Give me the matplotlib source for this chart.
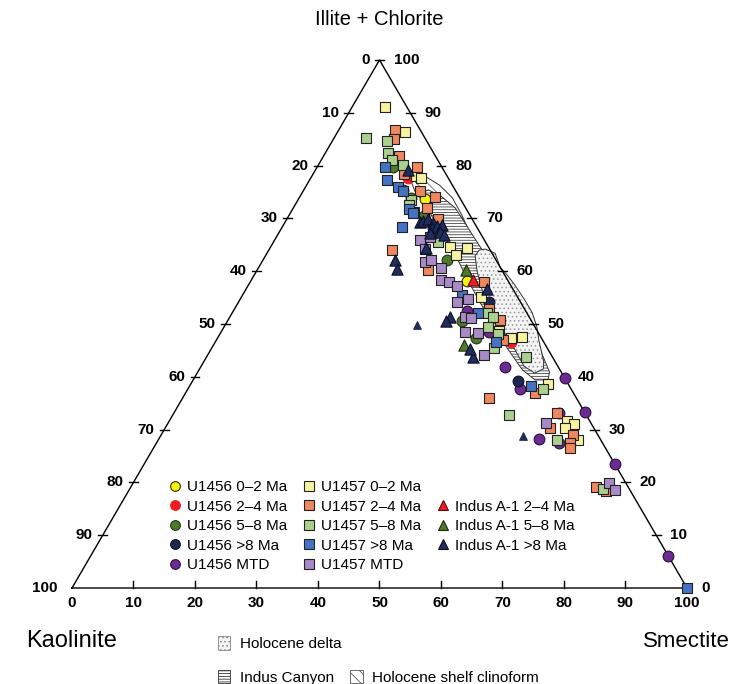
import numpy as np
import matplotlib
matplotlib.use("Agg")
import matplotlib.pyplot as plt
from matplotlib.patches import Polygon, Patch
from matplotlib.lines import Line2D

plt.rcParams['font.family'] = ['Liberation Sans', 'DejaVu Sans']
plt.rcParams['hatch.linewidth'] = 0.6

# Ternary data: (smectite %, illite+chlorite %); kaolinite = 100 - both
u1456_0_2 = [(20.6, 73.7), (35.1, 58.1)]
u1456_2_4 = [(15.8, 77.7), (48.1, 46.6)]
u1456_5_8 = [(12.3, 79.7), (16.1, 75.4), (18.1, 73.9), (22.0, 70.5), (29.9, 62.1),
             (38.1, 50.6), (42.0, 47.3)]
u1456_gt8 = [(40.7, 54.2), (52.9, 39.2)]
u1456_mtd = [(49.5, 41.9), (54.0, 37.7), (60.3, 39.7), (66.7, 33.3), (62.6, 33.1),
             (61.8, 28.2), (65.5, 27.5), (76.5, 23.5), (93.9, 6.1), (43.6, 48.5),
             (38.0, 52.5)]

u1457_0_2 = [(5.3, 91.1), (10.9, 86.4), (16.9, 78.0), (17.9, 77.7), (29.2, 64.6),
             (32.0, 64.4), (30.9, 63.1), (38.9, 55.1), (47.8, 47.3), (49.4, 47.5),
             (58.1, 38.6), (64.7, 31.6), (66.0, 31.1), (65.0, 30.3), (68.3, 28.0),
             (45.1, 48.7)]
u1457_2_4 = [(9.1, 86.7), (9.9, 85.0), (12.3, 81.8), (16.2, 79.7), (14.8, 78.4),
             (19.0, 75.2), (22.0, 74.1), (21.7, 72.0), (24.5, 69.9), (20.0, 64.0),
             (27.8, 60.2), (38.0, 58.0), (41.4, 52.8), (44.2, 50.8), (46.6, 47.0),
             (56.8, 36.9), (49.8, 36.0), (62.3, 33.1), (62.5, 30.3), (67.0, 29.0),
             (67.3, 27.5), (67.8, 26.5), (75.6, 19.1), (77.6, 18.4)]
u1457_5_8 = [(5.2, 85.2), (8.8, 84.7), (10.2, 82.4), (11.5, 81.1), (13.7, 80.1),
             (18.3, 73.5), (18.5, 72.5), (20.0, 71.2), (26.7, 65.5), (41.5, 52.1),
             (42.8, 51.3), (42.9, 49.4), (45.3, 48.1), (45.8, 45.5), (51.9, 43.8),
             (57.8, 37.7), (54.7, 32.8), (64.9, 28.0), (76.9, 18.8)]
u1457_gt8 = [(11.0, 79.7), (12.6, 77.3), (15.0, 75.9), (16.2, 75.2), (18.9, 71.8),
             (19.9, 71.0), (19.5, 68.4), (35.7, 55.5), (40.0, 52.1), (45.6, 46.6),
             (55.5, 38.3), (100.0, 0.0)]
u1457_mtd = [(23.7, 65.9), (25.0, 66.5), (25.3, 64.2), (26.5, 61.7), (27.4, 62.1),
             (29.7, 60.6), (30.8, 58.3), (32.3, 58.0), (34.0, 57.2), (35.5, 54.2),
             (37.0, 54.7), (38.2, 51.3), (39.3, 51.1), (39.7, 48.5), (41.8, 48.3),
             (44.9, 44.1), (61.5, 31.3), (77.3, 19.9), (79.0, 18.6)]

a1_2_4 = [(36.0, 58.3)]
a1_5_8 = [(34.0, 60.2), (40.7, 46.0)]
a1_gt8 = [(15.0, 79.2), (21.9, 69.3), (22.4, 69.5), (23.0, 69.9), (24.1, 69.1),
          (24.4, 68.2), (25.0, 68.6), (25.8, 68.8), (26.1, 67.4), (27.1, 66.9),
          (24.6, 67.2), (25.4, 64.4), (21.4, 62.1), (22.6, 60.4), (39.2, 56.6),
          (35.8, 51.3), (35.5, 50.6), (43.3, 43.8), (42.1, 45.3)]
a1_gt8_small = [(31.2, 49.8), (58.9, 28.8)]

# Fields
delta_field = [(35.1, 64.2), (37.1, 63.4), (39.2, 60.8), (41.1, 59.3), (43.3, 57.4),
               (46.4, 54.5), (48.8, 52.1), (50.9, 49.4), (52.4, 47.0), (54.0, 44.7),
               (55.3, 42.8), (55.9, 41.5), (54.9, 40.7), (52.5, 42.0), (49.5, 45.1),
               (46.0, 48.5), (42.3, 52.1), (38.5, 56.4), (36.0, 59.8), (34.1, 62.9),
               (34.2, 64.0)]
canyon_field = [(19.1, 74.4), (22.7, 71.0), (26.5, 67.4), (30.8, 63.1), (35.2, 58.3),
                (39.2, 54.2), (43.8, 49.6), (48.4, 45.1), (52.6, 41.3), (55.6, 39.4),
                (57.7, 39.4), (57.2, 40.9), (53.6, 45.1), (49.2, 49.8), (44.0, 54.9),
                (39.2, 59.8), (34.7, 64.0), (30.3, 68.2), (26.3, 72.0), (22.6, 74.4),
                (20.2, 75.4)]
clinoform_field = [(16.4, 77.3), (18.4, 78.0), (21.6, 76.3), (24.9, 73.9), (28.1, 70.6),
                   (31.9, 66.3), (34.0, 64.0), (32.9, 63.6), (29.4, 66.9), (25.4, 70.6),
                   (21.5, 73.5), (18.3, 75.0)]

H = np.sqrt(3) / 2


def tern(pts):
    a = np.asarray(pts, dtype=float)
    s, i = a[:, 0], a[:, 1]
    return s + i / 2, i * H


fig = plt.figure(figsize=(7.32, 6.84), dpi=100)
ax = fig.add_axes([0, 0, 1, 1])
ax.set_xlim(-11.707, 107.32)
ax.set_ylim(-15.745, 96.44)
ax.axis('off')

# triangle outline
ax.plot([0, 100, 50, 0], [0, 0, 50 * 2 * H, 0], color='black', lw=1.0, zorder=2)

# fields
def field(pts, hatch, hcol, fcol, z):
    x, y = tern(pts)
    xy = np.column_stack([x, y])
    ax.add_patch(Polygon(xy, closed=True, facecolor=fcol, edgecolor=hcol,
                         hatch=hatch, lw=0, zorder=z))
    ax.add_patch(Polygon(xy, closed=True, facecolor='none', edgecolor='#333333',
                         lw=0.7, zorder=z + 0.1))

field(clinoform_field, '\\\\\\', '#666666', 'white', 1)
field(canyon_field, '------', '#444444', 'white', 1.2)
field(delta_field, '....', '#999999', '#f4f4f4', 1.4)

# ticks and labels
for v in range(10, 100, 10):
    ax.plot([v, v], [0, 1.2], color='black', lw=1.0)
for v in range(0, 101, 10):
    ax.text(v, -2.5, str(v), ha='center', va='center', fontsize=11, fontweight='bold')
    # left side: kaolinite
    lx, ly = (100 - v) / 2, (100 - v) * H
    if 0 < v < 100:
        ax.plot([lx - 0.7, lx + 0.7], [ly, ly], color='black', lw=1.0)
    ax.text(lx - 1.6 - (0.7 if v == 100 else 0), ly, str(v), ha='right', va='center',
            fontsize=11, fontweight='bold')
    # right side: illite + chlorite
    rx, ry = 100 - v / 2, v * H
    if 0 < v < 100:
        ax.plot([rx - 0.7, rx + 0.7], [ry, ry], color='black', lw=1.0)
    ax.text(rx + 2.3, ry, str(v), ha='left', va='center', fontsize=11, fontweight='bold')
ax.plot([49.3, 50.7], [100 * H, 100 * H], color='black', lw=1.0)

ax.text(50, 93.2, 'Illite + Chlorite', ha='center', va='center', fontsize=14.5)
ax.text(0, -8.7, 'Kaolinite', ha='center', va='center', fontsize=17)
ax.text(106.9, -8.7, 'Smectite', ha='right', va='center', fontsize=16)

series = [
    (u1456_mtd, 'o', '#6b2b91', '#2a0f40', 60, 3),
    (u1456_gt8, 'o', '#1d2852', '#0a0f25', 60, 3),
    (u1456_5_8, 'o', '#4e7a2e', '#203410', 60, 3),
    (u1456_2_4, 'o', '#ee1c24', '#ee1c24', 60, 3),
    (u1456_0_2, 'o', '#f5f210', '#333300', 60, 3),
    (u1457_0_2, 's', '#f7f3a0', '#222222', 56, 4),
    (u1457_2_4, 's', '#f0875e', '#222222', 56, 4),
    (u1457_5_8, 's', '#a9d08e', '#222222', 56, 4),
    (u1457_gt8, 's', '#4472c4', '#222222', 56, 4),
    (u1457_mtd, 's', '#a88bc6', '#222222', 56, 4),
    (a1_5_8, '^', '#4e7a2e', '#1b2b0c', 66, 5),
    (a1_2_4, '^', '#ee1c24', '#5a0a0a', 66, 5),
    (a1_gt8, '^', '#1f2c5c', '#0a0f25', 66, 5),
    (a1_gt8_small, '^', '#1f2c5c', '#1f2c5c', 30, 5),
]
for pts, m, fc, ec, s, z in series:
    x, y = tern(pts)
    ax.scatter(x, y, marker=m, s=s, facecolor=fc, edgecolor=ec, linewidths=0.8, zorder=z)

def h(m, fc, ec):
    return Line2D([], [], ls='none', marker=m, markersize=7, markerfacecolor=fc,
                  markeredgecolor=ec, markeredgewidth=0.8)

blank = Line2D([], [], ls='none')
handles = [h('o', '#f5f210', '#333300'), h('o', '#ee1c24', '#ee1c24'),
           h('o', '#4e7a2e', '#203410'), h('o', '#1d2852', '#0a0f25'),
           h('o', '#6b2b91', '#2a0f40'),
           h('s', '#f7f3a0', '#222222'), h('s', '#f0875e', '#222222'),
           h('s', '#a9d08e', '#222222'), h('s', '#4472c4', '#222222'),
           h('s', '#a88bc6', '#222222'),
           blank, h('^', '#ee1c24', '#5a0a0a'), h('^', '#4e7a2e', '#1b2b0c'),
           h('^', '#1f2c5c', '#0a0f25'), blank]
labels = ['U1456 0\u20132 Ma', 'U1456 2\u20134 Ma', 'U1456 5\u20138 Ma', 'U1456 >8 Ma',
          'U1456 MTD', 'U1457 0\u20132 Ma', 'U1457 2\u20134 Ma', 'U1457 5\u20138 Ma',
          'U1457 >8 Ma', 'U1457 MTD', '', 'Indus A-1 2\u20134 Ma', 'Indus A-1 5\u20138 Ma',
          'Indus A-1 >8 Ma', '']
leg = ax.legend(handles, labels, ncol=3, loc='upper left', bbox_to_anchor=(0.231, 0.298),
                frameon=False, fontsize=11, handlelength=0.8, handletextpad=0.4,
                columnspacing=1.0, labelspacing=0.36, borderaxespad=0, borderpad=0)
ax.add_artist(leg)

p_delta = Patch(facecolor='#f4f4f4', edgecolor='#888888', hatch='....', lw=0.6)
p_canyon = Patch(facecolor='white', edgecolor='#333333', hatch='------', lw=0.6)
p_clino = Patch(facecolor='white', edgecolor='#555555', hatch='\\\\\\', lw=0.6)
leg2 = ax.legend([p_delta, p_canyon, blank, p_clino],
                 ['Holocene delta', 'Indus Canyon', '', 'Holocene shelf clinoform'],
                 ncol=2, loc='upper left', bbox_to_anchor=(0.298, 0.070), frameon=False,
                 fontsize=11, handlelength=0.8, handleheight=1.0, handletextpad=0.6,
                 columnspacing=0.6, labelspacing=1.2, borderaxespad=0, borderpad=0)

fig.savefig('out.png', dpi=100)
